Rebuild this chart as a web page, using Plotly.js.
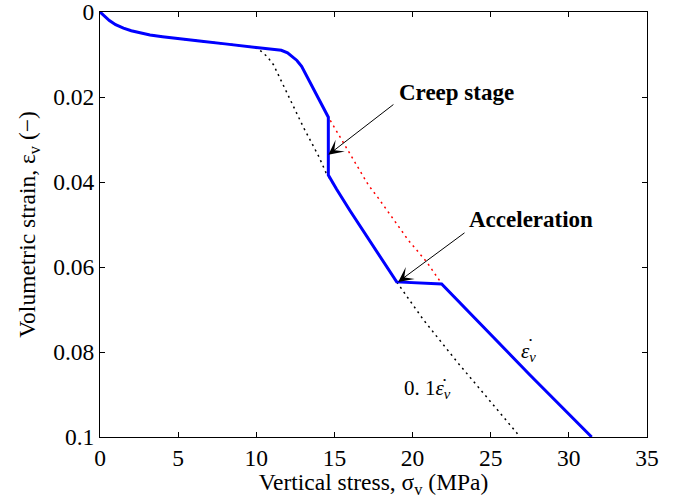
<!DOCTYPE html>
<html>
<head>
<meta charset="utf-8">
<script src="https://cdn.plot.ly/plotly-3.0.1.min.js"></script>
<style>html,body{margin:0;padding:0;background:#fff;}#chart{width:690px;height:499px;}</style>
</head>
<body>
<div id="chart"></div>
<script>
// Vertical stress (MPa) and volumetric strain (-)
// common initial loading part (shared by all three curves)
const loadStress = [0, 0.3, 0.6, 1.0, 1.5, 2.0, 2.56, 3.2, 4.0, 5.0, 6.5, 8.0, 9.0];
const loadStrain = [0, 0.0011, 0.0020, 0.0030, 0.0038, 0.0044, 0.0049, 0.0054, 0.0058, 0.0063, 0.0069, 0.0075, 0.0079];

// measured curve (blue)
const blueStress = [10.0, 10.7, 11.1, 11.6, 12.0, 12.3, 12.6, 12.9, 14.61, 14.61, 15.14, 15.99, 18.98, 21.86, 27.51, 31.46];
const blueStrain = [0.0083, 0.0086, 0.0087, 0.0090, 0.0096, 0.0104, 0.0114, 0.0128, 0.02475, 0.03835, 0.0417, 0.0467, 0.0635, 0.0640, 0.0854, 0.1];

// model with strain rate (red dotted)
const redStress = [10.0, 10.7, 11.1, 11.6, 12.0, 12.3, 12.6, 12.9, 14.61, 17.17, 17.81, 19.73, 20.9, 21.86, 27.51, 31.46];
const redStrain = [0.0083, 0.0086, 0.0087, 0.0090, 0.0096, 0.0104, 0.0114, 0.0128, 0.02475, 0.0407, 0.0438, 0.0537, 0.0588, 0.0639, 0.0854, 0.1];

// model with 0.1 x strain rate (black dotted)
const blackStress = [9.9, 10.3, 10.7, 11.1, 11.5, 11.9, 12.4, 13.0, 13.5, 14.0, 14.46, 15.14, 15.99, 18.98, 20.69, 22.82, 24.95, 26.66, 26.8];
const blackStrain = [0.0083, 0.0092, 0.0105, 0.0124, 0.0155, 0.0185, 0.0224, 0.0270, 0.0305, 0.0340, 0.0378, 0.0417, 0.0467, 0.0635, 0.0724, 0.0822, 0.0915, 0.0990, 0.1];

const xTicks = [0, 5, 10, 15, 20, 25, 30, 35];
const xTickText = ['0', '5', '10', '15', '20', '25', '30', '35'];
const yTicks = [0, 0.02, 0.04, 0.06, 0.08, 0.1];
const yTickText = ['0', '0.02', '0.04', '0.06', '0.08', '0.1'];

const serif = 'Liberation Serif, Times New Roman, serif';

const traces = [
  {x: loadStress.concat(redStress), y: loadStrain.concat(redStrain), mode: 'lines', line: {color: '#ff0000', width: 1.5, dash: '2px,4px'}, hoverinfo: 'skip'},
  {x: loadStress.concat(blackStress), y: loadStrain.concat(blackStrain), mode: 'lines', line: {color: '#000000', width: 1.5, dash: '2px,4px'}, hoverinfo: 'skip'},
  {x: loadStress.concat(blueStress), y: loadStrain.concat(blueStrain), mode: 'lines', line: {color: '#0000ff', width: 3}, hoverinfo: 'skip'}
];

const tickFont = {family: serif, size: 23.5, color: '#000'};

const layout = {
  width: 690, height: 499,
  margin: {l: 100, r: 43, t: 12, b: 62},
  paper_bgcolor: '#ffffff', plot_bgcolor: '#ffffff',
  showlegend: false,
  font: {family: serif, size: 23.5, color: '#000'},
  xaxis: {
    range: [0, 35], autorange: false,
    tickvals: xTicks, ticktext: xTickText,
    ticks: 'inside', ticklen: 5, tickwidth: 1, tickcolor: '#000',
    showline: true, linecolor: '#000', linewidth: 1, mirror: 'ticks',
    showgrid: false, zeroline: false, ticklabeloverflow: 'allow',
    tickfont: tickFont,
    title: {text: 'Vertical stress, σ<sub>v</sub> (MPa)', font: tickFont, standoff: 0}
  },
  yaxis: {
    range: [0.1, 0], autorange: false,
    tickvals: yTicks, ticktext: yTickText,
    ticks: 'inside', ticklen: 5, tickwidth: 1, tickcolor: '#000',
    showline: true, linecolor: '#000', linewidth: 1, mirror: 'ticks',
    showgrid: false, zeroline: false, ticklabeloverflow: 'allow',
    tickfont: tickFont,
    title: {text: 'Volumetric strain, ε<sub>v</sub> (−)', font: tickFont, standoff: 10}
  },
  annotations: [
    {xref: 'x', yref: 'y', x: 18.98, y: 0.0189, text: '<b>Creep stage</b>', showarrow: false, xanchor: 'left', yanchor: 'middle', font: {family: serif, size: 23}},
    {xref: 'x', yref: 'y', axref: 'x', ayref: 'y', x: 14.61, y: 0.0336, ax: 18.87, ay: 0.0215, text: '', showarrow: true, arrowhead: 3, arrowsize: 2.5, arrowwidth: 1, arrowcolor: '#000', standoff: 0, startstandoff: 0},
    {xref: 'x', yref: 'y', x: 23.46, y: 0.0488, text: '<b>Acceleration</b>', showarrow: false, xanchor: 'left', yanchor: 'middle', font: {family: serif, size: 23}},
    {xref: 'x', yref: 'y', axref: 'x', ayref: 'y', x: 19.08, y: 0.0635, ax: 23.42, ay: 0.0517, text: '', showarrow: true, arrowhead: 3, arrowsize: 2.5, arrowwidth: 1, arrowcolor: '#000', standoff: 0, startstandoff: 0},
    {xref: 'x', yref: 'y', x: 27.39, y: 0.0799, text: '<i>ε<sub>v</sub></i>', showarrow: false, xanchor: 'center', yanchor: 'middle', font: {family: serif, size: 21}},
    {xref: 'x', yref: 'y', x: 27.56, y: 0.0772, text: '•', showarrow: false, xanchor: 'center', yanchor: 'middle', font: {family: serif, size: 9}},
    {xref: 'x', yref: 'y', x: 20.95, y: 0.0888, text: '0. 1<i>ε<sub>v</sub></i>', showarrow: false, xanchor: 'center', yanchor: 'middle', font: {family: serif, size: 21}},
    {xref: 'x', yref: 'y', x: 22.05, y: 0.0866, text: '•', showarrow: false, xanchor: 'center', yanchor: 'middle', font: {family: serif, size: 9}}
  ]
};

Plotly.newPlot('chart', traces, layout, {staticPlot: true, displayModeBar: false});
</script>
</body>
</html>
